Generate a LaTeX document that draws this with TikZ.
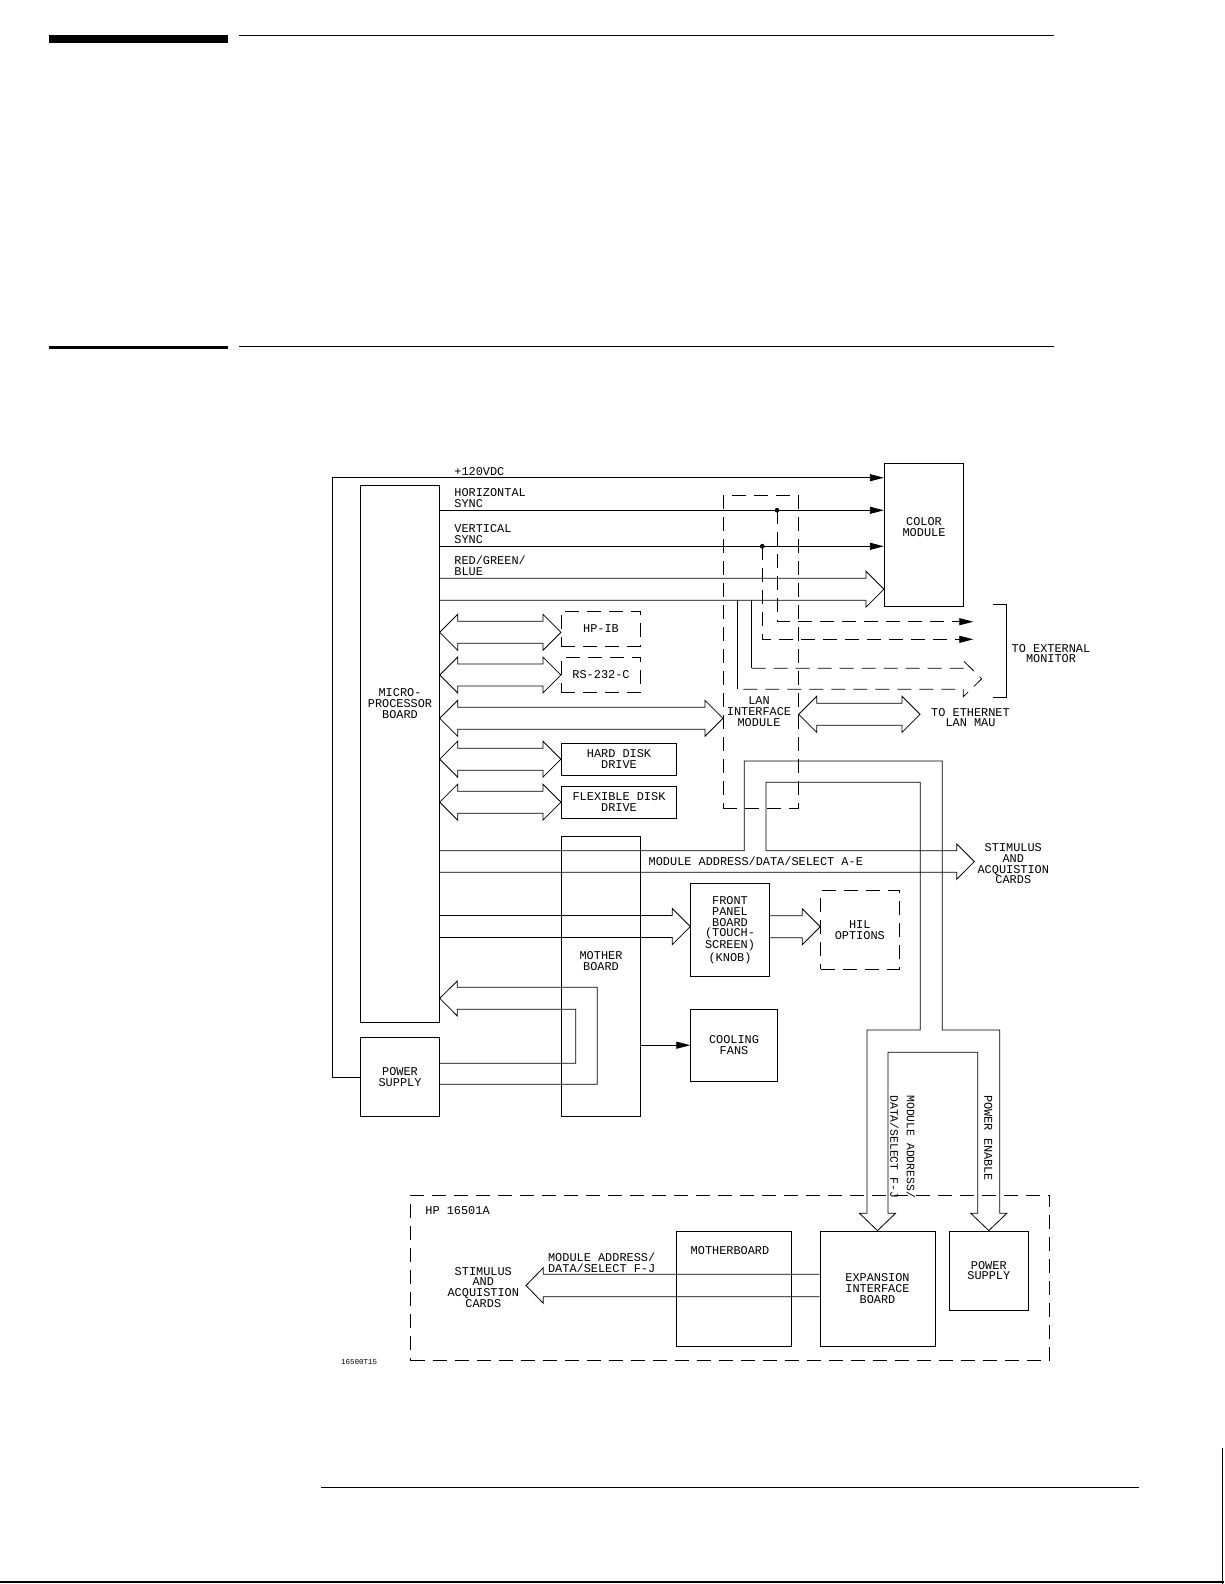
\documentclass[tikz,border=0pt]{standalone}
\usepackage{fontspec}
\newfontfamily\plotfont{Liberation Mono}
\usetikzlibrary{arrows.meta,calc}

\tikzset{every picture/.style={line width=0.8pt}}
\tikzset{
  box/.style={draw, inner sep=0pt, align=center},
  dsh/.style={dash pattern={on 14pt off 8pt}},
  dbox/.style={box, dsh},
  txt/.style={inner sep=0pt, align=center},
  toarr/.style={-{Triangle[length=14pt,width=7pt]}},
  fatdbl/.style={to path={-- ++(18,-18) -- ++(0,7) -- ($(\tikztotarget)+(-18,-11)$) -- ++(0,-7) -- (\tikztotarget)
      -- ++(-18,18) -- ++(0,-7) -- ($(\tikztostart)+(18,11)$) -- ++(0,7) -- cycle}},
  fatsgl/.style={to path={($(\tikztostart)+(0,-11)$) -- ($(\tikztotarget)+(-18,-11)$) -- ++(0,-7) -- (\tikztotarget)
      -- ++(-18,18) -- ++(0,-7) -- ($(\tikztostart)+(0,11)$)}}
}

\begin{document}
\begin{tikzpicture}[x=1pt, y=-1pt, every node/.style={font=\plotfont\fontsize{11.9}{10.8}\selectfont}]
    \useasboundingbox (0,0) rectangle (1224,1584);
    % page rules
    \fill (48.5,35.3) rectangle (228,42.6);
    \draw[line width=1.3pt] (239,35.5) -- (1054,35.5);
    \fill (48.5,345.7) rectangle (228,349.2);
    \draw[line width=1.3pt] (239,346.3) -- (1054,346.3);
    \draw[line width=1.3pt] (321,1487.3) -- (1139,1487.3);
    \draw[line width=1.2pt] (0,1582) -- (1224,1582);
    \draw[line width=1.2pt] (1222.8,1448) -- (1222.8,1584);

    % boxes
    \node[box, minimum width=78.6pt, minimum height=537.4pt] (micro) at (400,754) {};
    \node[txt] (microtxt) at (400,703.7) {MICRO-\\PROCESSOR\\BOARD};
    \node[box, minimum width=78.6pt, minimum height=79pt] (ps1) at (400,1077.2) {POWER\\SUPPLY};
    \node[box, minimum width=79pt, minimum height=280pt] (mother) at (601.2,976.7) {};
    \node[txt] (mothertxt) at (601,961.4) {MOTHER\\BOARD};
    \node[dbox, minimum width=79.4pt, minimum height=35pt] (hpib) at (601,628.5) {HP-IB};
    \node[dbox, minimum width=79.4pt, minimum height=35.4pt] (rs) at (601,675) {RS-232-C};
    \node[box, minimum width=115.4pt, minimum height=31.7pt] (hdd) at (619,759.2) {HARD DISK\\DRIVE};
    \node[box, minimum width=115.4pt, minimum height=32.3pt] (fdd) at (619,802.2) {FLEXIBLE DISK\\DRIVE};
    \node[dbox, minimum width=75pt, minimum height=312.6pt] (lan) at (760.8,652) {};
    \node[txt] (lantxt) at (759,711.5) {LAN\\INTERFACE\\MODULE};
    \node[box, minimum width=79pt, minimum height=143.4pt] (colmod) at (923.8,535) {};
    \node[txt] (colmodtxt) at (924,527.3) {COLOR\\MODULE};
    \node[box, minimum width=78.6pt, minimum height=93.4pt] (front) at (730,930) {FRONT\\PANEL\\BOARD\\(TOUCH-\\SCREEN)\\(KNOB)};
    \node[dbox, minimum width=78.3pt, minimum height=78.3pt] (hil) at (859.8,929.8) {HIL\\OPTIONS};
    \node[box, minimum width=86.6pt, minimum height=71.7pt] (fans) at (734,1045.2) {COOLING\\FANS};

    % HP 16501A frame
    \node[dbox, minimum width=638.6pt, minimum height=165.7pt] (hp) at (730,1277.9) {};
    \node[txt, anchor=base west] (hptxt) at (425,1214.3) {HP 16501A};
    \node[box, minimum width=115pt, minimum height=114.3pt] (mb) at (734.2,1288.9) {};
    \node[txt] (mbtxt) at (730,1250.3) {MOTHERBOARD};
    \node[box, minimum width=115pt, minimum height=115pt] (exp) at (877.5,1288.5) {EXPANSION\\INTERFACE\\BOARD};
    \node[box, minimum width=79pt, minimum height=79pt] (ps2) at (988.8,1270.5) {POWER\\SUPPLY};

    % video lines
    \coordinate (vl) at (332.3,477.7);
    \coordinate (hdot) at (777,510.3);
    \coordinate (vdot) at (762.3,546.3);
    \draw[toarr] (ps1.west) -| (vl) -- (vl -| colmod.west);
    \draw[toarr] (micro.east |- hdot) -- (colmod.west |- hdot);
    \draw[toarr] (micro.east |- vdot) -- (colmod.west |- vdot);
    \draw[fatsgl] (micro.east |- 0,589.2) to (colmod.west |- 0,589.2);
    \fill (hdot) circle (2.4pt);
    \fill (vdot) circle (2.4pt);
    \node[txt, anchor=base west] (vdc) at (454,475) {+120VDC};
    \node[txt, anchor=west, align=left] (hs) at (454,498) {HORIZONTAL\\SYNC};
    \node[txt, anchor=west, align=left] (vs) at (454,534) {VERTICAL\\SYNC};
    \node[txt, anchor=west, align=left] (rgb) at (454,565.7) {RED/GREEN/\\BLUE};

    % external monitor
    \coordinate (mon1) at (973.3,621.7);
    \coordinate (mon2) at (973.3,639.3);
    \coordinate (montip) at (981.7,678.8);
    \draw[dsh, toarr] (hdot) |- (mon1);
    \draw[dsh, toarr] (vdot) |- (mon2);
    \draw (751.7,600) -- (751.7,668.3);
    \draw (737.7,600) -- (737.7,689.3);
    \draw[dsh] (751.7,668.3) -- (963.3,668.3) -- (963.3,660.7) -- (montip) -- (963.3,696.7) -- (963.3,689.3) -- (737.7,689.3);
    \draw (992.7,604) -| (1006,697.3) -- (992.7,697.3);
    \node[txt] (montxt) at (1051,653.5) {TO EXTERNAL\\MONITOR};

    % processor buses
    \draw[fatdbl] (micro.east |- 0,632.3) to (hpib.west |- 0,632.3);
    \draw[fatdbl] (micro.east |- rs.west) to (rs.west);
    \draw[fatdbl] (micro.east |- 0,718.3) to (lan.west |- 0,718.3);
    \draw[fatdbl] (micro.east |- hdd.west) to (hdd.west);
    \draw[fatdbl] (micro.east |- fdd.west) to (fdd.west);
    \coordinate (eth) at (920,714.3);
    \draw[fatdbl] (lan.east |- eth) to (eth);
    \node[txt] (ethtxt) at (970.5,717.5) {TO ETHERNET\\LAN MAU};

    % module bus A-E with branch to F-J and power enable
    \coordinate (aetip) at (974.3,861.5);
    \draw (micro.east |- 0,872.3) -- (956.7,872.3) -- (956.7,879.3) -- (aetip) -- (956.7,844) -- (956.7,850.7)
        -- (766,850.7) |- (920.3,782.3) |- (867,1030) -- (867,1213.3) -- (859.5,1213.3) -- (exp.north)
        -- (895.5,1213.3) -- (888,1213.3) |- (977.8,1052.3) -- (977.8,1213.3) -- (970.8,1213.3) -- (ps2.north)
        -- (1006.8,1213.3) -- (999.8,1213.3) |- (942.3,1030) |- (744.3,761) |- (micro.east |- 0,850.7);
    \node[txt] (aetxt) [anchor=base west] at (648.3,865.7) {MODULE ADDRESS/DATA/SELECT A-E};
    \node[txt] (stim1) at (1013.3,863.7) {STIMULUS\\AND\\ACQUISTION\\CARDS};
    \node[txt, anchor=west, rotate=-90, align=left, font=\plotfont\fontsize{11.4}{16.5}\selectfont] (fjv) at (902.8,1095) {MODULE ADDRESS/\\DATA/SELECT F-J};
    \node[txt, anchor=west, rotate=-90] (pe) at (988.3,1095) {POWER ENABLE};

    % front panel, fans, power return
    \draw[fatsgl] (micro.east |- 0,926.5) to (front.west |- 0,926.5);
    \draw[fatsgl] (front.east |- 0,926.7) to (hil.west |- 0,926.7);
    \draw[toarr] (mother.east |- fans.west) -- (fans.west);
    \draw (ps1.east |- 0,1063.3) -| (575.7,1009.3) -- (457.3,1009.3) -- (457.3,1016) -- (micro.east |- 0,998.3)
        -- (457.3,981) -- (457.3,987.3) -| (597.3,1084.3) -- (ps1.east |- 0,1084.3);

    % expansion frame bus
    \coordinate (fjtip) at (526,1285.5);
    \draw (exp.west |- 0,1274.3) -- (543.3,1274.3) -- (543.3,1267.7) -- (fjtip) -- (543.3,1303.3) -- (543.3,1296.7) -- (exp.west |- 0,1296.7);
    \node[txt, anchor=west, align=left] (fjtxt) at (547.7,1262.5) {MODULE ADDRESS/\\DATA/SELECT F-J};
    \node[txt] (stim2) at (483.3,1287.4) {STIMULUS\\AND\\ACQUISTION\\CARDS};
    \node[txt, anchor=base west, font=\plotfont\fontsize{7.5}{8}\selectfont] (fig) at (340.7,1364.3) {16500T15};
\end{tikzpicture}
\end{document}
